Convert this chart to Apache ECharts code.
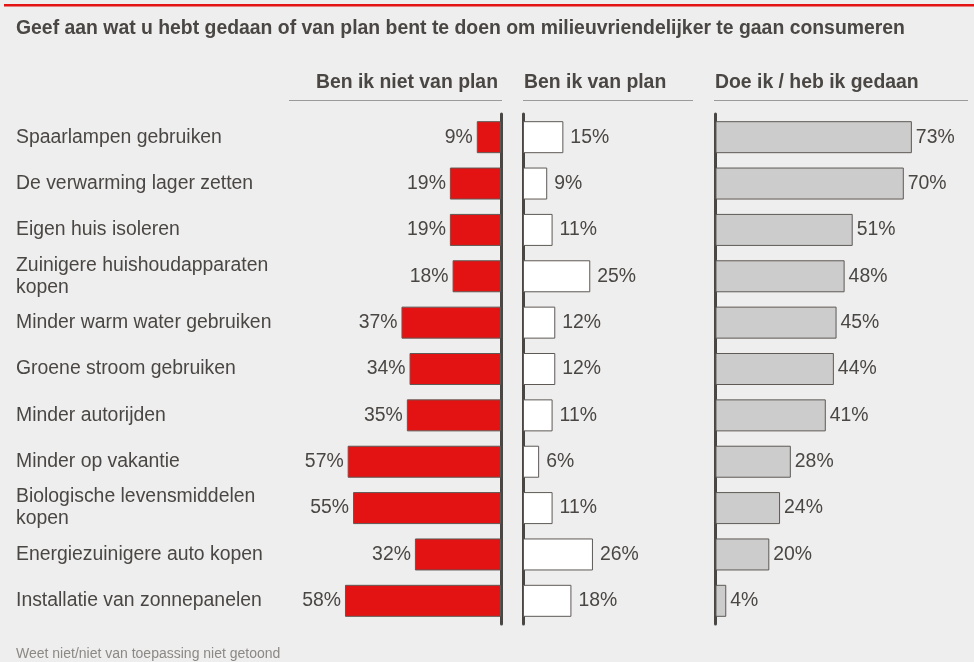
<!DOCTYPE html>
<html>
<head>
<meta charset="utf-8">
<script src="https://cdn.jsdelivr.net/npm/echarts@6/dist/echarts.min.js"></script>
<style>
  html, body { margin: 0; padding: 0; background: #eeeeee; }
  #chart { width: 974px; height: 662px; }
</style>
</head>
<body>
<div id="chart"></div>
<script>
const categories = [
  'Spaarlampen gebruiken',
  'De verwarming lager zetten',
  'Eigen huis isoleren',
  'Zuinigere huishoudapparaten\nkopen',
  'Minder warm water gebruiken',
  'Groene stroom gebruiken',
  'Minder autorijden',
  'Minder op vakantie',
  'Biologische levensmiddelen\nkopen',
  'Energiezuinigere auto kopen',
  'Installatie van zonnepanelen'
];
const nietVanPlan = [9, 19, 19, 18, 37, 34, 35, 57, 55, 32, 58];
const vanPlan = [15, 9, 11, 25, 12, 12, 11, 6, 11, 26, 18];
const gedaan = [73, 70, 51, 48, 45, 44, 41, 28, 24, 20, 4];
const headers = ['Ben ik niet van plan', 'Ben ik van plan', 'Doe ik / heb ik gedaan'];

const FONT = '"Liberation Sans", Arial, sans-serif';
const TXT = '#4a4643';
const FS = 19.4;
const PX = 2.69; // pixels per percent
const TOP = 114, H = 510;

const chart = echarts.init(document.getElementById('chart'));

function valueAxis(idx, max, inverse) {
  return {
    type: 'value', gridIndex: idx, min: 0, max: max, inverse: inverse,
    show: false
  };
}
function catAxis(idx, pos, showLabels) {
  return {
    type: 'category', gridIndex: idx, data: categories, inverse: true,
    position: pos,
    axisLine: { show: idx > 0, lineStyle: { color: TXT, width: 3 } },
    axisTick: { show: false },
    axisLabel: showLabels ? {
      show: true, inside: true, align: 'left', margin: 0,
      color: TXT, fontSize: FS, fontFamily: FONT, lineHeight: 22,
      padding: [3, 0, 0, 0]
    } : { show: false }
  };
}
function barSeries(idx, data, color, pos, dist) {
  return {
    type: 'bar', xAxisIndex: idx, yAxisIndex: idx, data: data,
    barWidth: 32,
    itemStyle: { color: color, borderColor: '#5e5955', borderWidth: 1 },
    label: {
      show: true, position: pos, distance: dist, formatter: '{c}%',
      color: TXT, fontSize: FS, fontFamily: FONT
    },
    silent: true
  };
}

const option = {
  backgroundColor: '#eeeeee',
  animation: false,
  grid: [
    { left: 16, top: TOP, width: 10, height: H },
    { left: 501 - 60 * PX, top: TOP, width: 60 * PX, height: H },
    { left: 523, top: TOP, width: 60 * PX, height: H },
    { left: 715.5, top: TOP, width: 90 * PX, height: H }
  ],
  xAxis: [
    valueAxis(0, 10, false),
    valueAxis(1, 60, true),
    valueAxis(2, 60, false),
    valueAxis(3, 90, false)
  ],
  yAxis: [
    catAxis(0, 'left', true),
    catAxis(1, 'right', false),
    catAxis(2, 'left', false),
    catAxis(3, 'left', false)
  ],
  series: [
    barSeries(1, nietVanPlan, '#e41313', 'left', 4),
    barSeries(2, vanPlan, '#ffffff', 'right', 7),
    barSeries(3, gedaan, '#cccccc', 'right', 4)
  ],
  graphic: [
    { type: 'rect', left: 4, top: 4, shape: { width: 970, height: 2.5 }, style: { fill: '#e41313' } },
    { type: 'text', left: 16, top: 19, style: { text: 'Geef aan wat u hebt gedaan of van plan bent te doen om milieuvriendelijker te gaan consumeren', fill: TXT, font: 'bold ' + FS + 'px ' + FONT } },
    { type: 'text', right: 974 - 498, top: 73, style: { text: headers[0], fill: TXT, font: 'bold ' + FS + 'px ' + FONT } },
    { type: 'text', left: 524, top: 73, style: { text: headers[1], fill: TXT, font: 'bold ' + FS + 'px ' + FONT } },
    { type: 'text', left: 715, top: 73, style: { text: headers[2], fill: TXT, font: 'bold ' + FS + 'px ' + FONT } },
    { type: 'line', shape: { x1: 289, y1: 100.5, x2: 502, y2: 100.5 }, style: { stroke: '#9a9a9a', lineWidth: 1 } },
    { type: 'line', shape: { x1: 523, y1: 100.5, x2: 693, y2: 100.5 }, style: { stroke: '#9a9a9a', lineWidth: 1 } },
    { type: 'line', shape: { x1: 714, y1: 100.5, x2: 968, y2: 100.5 }, style: { stroke: '#9a9a9a', lineWidth: 1 } },
    { type: 'text', left: 16, top: 647, style: { text: 'Weet niet/niet van toepassing niet getoond', fill: '#8c8884', font: '14px ' + FONT } }
  ]
};
chart.setOption(option);
</script>
</body>
</html>
